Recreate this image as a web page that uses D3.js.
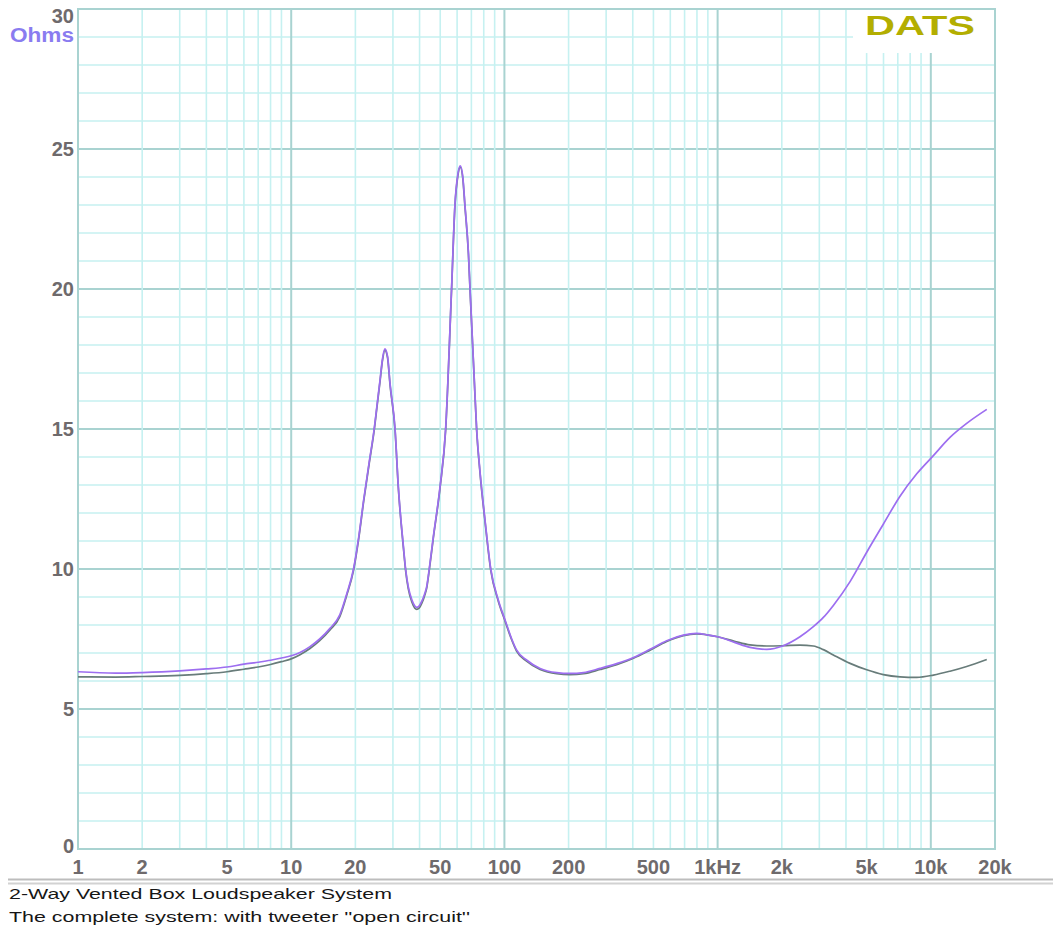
<!DOCTYPE html>
<html lang="en">

<head>
    <meta charset="UTF-8" />
    <title>2-Way Vented Box - Impedance</title>
    <style>
        body {
            margin: 0;
            background: #fff;
        }

        svg {
            display: block;
            background-color: #fff;
        }

        .tick-label {
            font-family: "Liberation Sans", Arial, sans-serif;
            font-weight: bold;
            font-size: 20px;
            fill: #6e6a6c;
        }

        .caption {
            font-family: "Liberation Sans", Arial, sans-serif;
            font-size: 15px;
            fill: #161616;
        }
    </style>
</head>

<body>
    <svg></svg>
    <script src="https://d3js.org/d3.v7.min.js"></script>
    <script>
        const width = 1053;
        const height = 936;

        // frequency (Hz) and impedance (Ohms)
        const freqs = [1, 1.5, 2, 3, 4, 5, 6, 7, 8, 9, 10, 11, 12.2, 13.6, 15.2, 16.9, 18.2, 19.6, 20.7, 21.9,
            23.2, 24.5, 25.4, 26.1, 26.8, 27.5, 28.3, 29.1, 30.7, 31.8, 33.6, 34.4, 35.4, 36.8, 38, 38.8,
            39.8, 41, 42.2, 43.2, 44.4, 46.4, 49.9, 53, 56.5, 58.6, 60.5, 62.1, 63.8, 65.3, 67.8, 69, 72,
            74.1, 76.8, 81.1, 86.3, 93.6, 100.7, 108, 114, 127, 147, 176, 203, 235, 281, 336, 403, 482,
            577, 691, 797, 904, 1000, 1200, 1419, 1700, 2033, 2434, 2812, 3133, 3490, 4180, 5005, 5985,
            7170, 8590, 10280, 12300, 14730, 18300];

        const zTweeterOpen = [6.33, 6.28, 6.30, 6.36, 6.43, 6.50, 6.60, 6.67, 6.74, 6.82, 6.90, 7.02, 7.22,
            7.50, 7.88, 8.36, 9.1, 10.0, 11.1, 12.5, 13.8, 15.0, 16.0, 16.75, 17.5, 17.86, 17.6, 16.6, 15.0,
            12.94, 10.8, 10.0, 9.37, 8.9, 8.68, 8.63, 8.68, 8.85, 9.1, 9.37, 10.0, 11.15, 12.94, 15.0, 20.0,
            23.0, 24.1, 24.4, 24.0, 23.0, 21.3, 20.0, 17.0, 15.0, 13.5, 11.75, 10.0, 8.89, 8.18, 7.52, 7.11,
            6.75, 6.45, 6.30, 6.27, 6.30, 6.45, 6.62, 6.84, 7.13, 7.44, 7.64, 7.70, 7.64, 7.58, 7.38, 7.20,
            7.13, 7.26, 7.58, 7.94, 8.27, 8.7, 9.55, 10.6, 11.6, 12.6, 13.4, 14.05, 14.7, 15.2, 15.7];

        const zComplete = [6.15, 6.14, 6.16, 6.20, 6.26, 6.33, 6.42, 6.50, 6.59, 6.69, 6.79, 6.94, 7.15,
            7.44, 7.82, 8.30, 9.05, 9.95, 11.05, 12.45, 13.75, 14.95, 15.95, 16.7, 17.45, 17.82, 17.55,
            16.55, 14.95, 12.9, 10.75, 9.95, 9.3, 8.82, 8.6, 8.56, 8.6, 8.78, 9.04, 9.32, 9.95, 11.1, 12.9,
            14.95, 19.95, 22.95, 24.05, 24.35, 23.95, 22.95, 21.25, 19.95, 16.95, 14.95, 13.45, 11.7, 9.95,
            8.85, 8.14, 7.48, 7.07, 6.71, 6.41, 6.26, 6.23, 6.26, 6.41, 6.58, 6.81, 7.10, 7.41, 7.62, 7.68,
            7.64, 7.58, 7.42, 7.29, 7.25, 7.26, 7.28, 7.25, 7.12, 6.93, 6.63, 6.40, 6.23, 6.15, 6.13, 6.21,
            6.35, 6.52, 6.77];

        const xTicks = [1, 2, 5, 10, 20, 50, 100, 200, 500, 1000, 2000, 5000, 10000, 20000];
        const xTickLabels = ["1", "2", "5", "10", "20", "50", "100", "200", "500", "1kHz", "2k", "5k", "10k", "20k"];
        const yTicks = [0, 5, 10, 15, 20, 25, 30];

        const captionLines = [
            "2-Way Vented Box Loudspeaker System",
            "The complete system: with tweeter ''open circuit''"
        ];

        const plot = { left: 78, right: 995, top: 9, bottom: 849 };

        const svg = d3.select("svg")
            .attr("width", width)
            .attr("height", height);

        const xScale = d3.scaleLog().domain([1, 20000]).range([plot.left, plot.right]);
        const yScale = d3.scaleLinear().domain([0, 30]).range([plot.bottom, plot.top]);

        const MINOR = "#c6f1f1";
        const MAJOR = "#a9d3d1";

        const grid = svg.append("g");

        // horizontal grid: every ohm, darker every 5
        d3.range(1, 30).forEach(v => {
            grid.append("line")
                .attr("x1", plot.left).attr("x2", plot.right)
                .attr("y1", yScale(v)).attr("y2", yScale(v))
                .attr("stroke", v % 5 === 0 ? MAJOR : MINOR)
                .attr("stroke-width", v % 5 === 0 ? 2 : 1.6);
        });

        // vertical grid: 2..9 per decade, darker on decades
        const vLines = [];
        [1, 10, 100, 1000, 10000].forEach(d => {
            for (let m = 1; m <= 9; m++) {
                const f = d * m;
                if (f > 1 && f < 20000) vLines.push({ f, major: m === 1 });
            }
        });
        vLines.sort((a, b) => a.major - b.major);
        vLines.forEach(({ f, major }) => {
            grid.append("line")
                .attr("x1", xScale(f)).attr("x2", xScale(f))
                .attr("y1", plot.top).attr("y2", plot.bottom)
                .attr("stroke", major ? MAJOR : MINOR)
                .attr("stroke-width", major ? 2 : 1.6);
        });

        // white box behind the logo hides the grid there
        grid.append("rect")
            .attr("x", 853).attr("y", plot.top)
            .attr("width", plot.right - 853).attr("height", 44)
            .attr("fill", "#fff");

        // frame
        svg.append("rect")
            .attr("x", plot.left).attr("y", plot.top)
            .attr("width", plot.right - plot.left)
            .attr("height", plot.bottom - plot.top)
            .attr("fill", "none")
            .attr("stroke", MAJOR)
            .attr("stroke-width", 2);

        // curves
        const line = d3.line()
            .x(d => xScale(d[0]))
            .y(d => yScale(d[1]))
            .curve(d3.curveMonotoneX);

        svg.append("path")
            .attr("d", line(freqs.map((f, i) => [f, zComplete[i]])))
            .attr("fill", "none")
            .attr("stroke", "#687c7a")
            .attr("stroke-width", 1.7);

        svg.append("path")
            .attr("d", line(freqs.map((f, i) => [f, zTweeterOpen[i]])))
            .attr("fill", "none")
            .attr("stroke", "#9d6ef0")
            .attr("stroke-width", 1.7);

        // y labels (clamped inside the frame like the original)
        svg.append("g").selectAll("text")
            .data(yTicks)
            .enter()
            .append("text")
            .attr("class", "tick-label")
            .attr("text-anchor", "end")
            .attr("x", 74)
            .attr("y", d => Math.min(Math.max(yScale(d), 16), 845.5) + 7)
            .text(d => d);

        svg.append("text")
            .attr("x", 74)
            .attr("y", 42)
            .attr("text-anchor", "end")
            .attr("font-family", "Liberation Sans, Arial, sans-serif")
            .attr("font-weight", "bold")
            .attr("font-size", 20)
            .attr("fill", "#8a7cf0")
            .attr("textLength", 64)
            .attr("lengthAdjust", "spacingAndGlyphs")
            .text("Ohms");

        // x labels
        svg.append("g").selectAll("text")
            .data(xTicks)
            .enter()
            .append("text")
            .attr("class", "tick-label")
            .attr("text-anchor", "middle")
            .attr("x", d => xScale(d))
            .attr("y", 874)
            .text((d, i) => xTickLabels[i]);

        // logo
        svg.append("text")
            .attr("x", 865)
            .attr("y", 35)
            .attr("font-family", "Liberation Sans, Arial, sans-serif")
            .attr("font-weight", "bold")
            .attr("font-size", 27)
            .attr("fill", "#b3ae00")
            .attr("textLength", 110)
            .attr("lengthAdjust", "spacingAndGlyphs")
            .text("DATS");

        // separator + caption
        svg.append("line")
            .attr("x1", 8).attr("x2", width)
            .attr("y1", 879.5).attr("y2", 879.5)
            .attr("stroke", "#bdbdbd").attr("stroke-width", 2);
        svg.append("line")
            .attr("x1", 8).attr("x2", width)
            .attr("y1", 883.5).attr("y2", 883.5)
            .attr("stroke", "#d2d2d2").attr("stroke-width", 2);

        const captionLengths = [383, 461];
        svg.append("g").selectAll("text")
            .data(captionLines)
            .enter()
            .append("text")
            .attr("class", "caption")
            .attr("x", 9)
            .attr("y", (d, i) => 899 + i * 23)
            .attr("textLength", (d, i) => captionLengths[i])
            .attr("lengthAdjust", "spacingAndGlyphs")
            .text(d => d);
    </script>
</body>

</html>
